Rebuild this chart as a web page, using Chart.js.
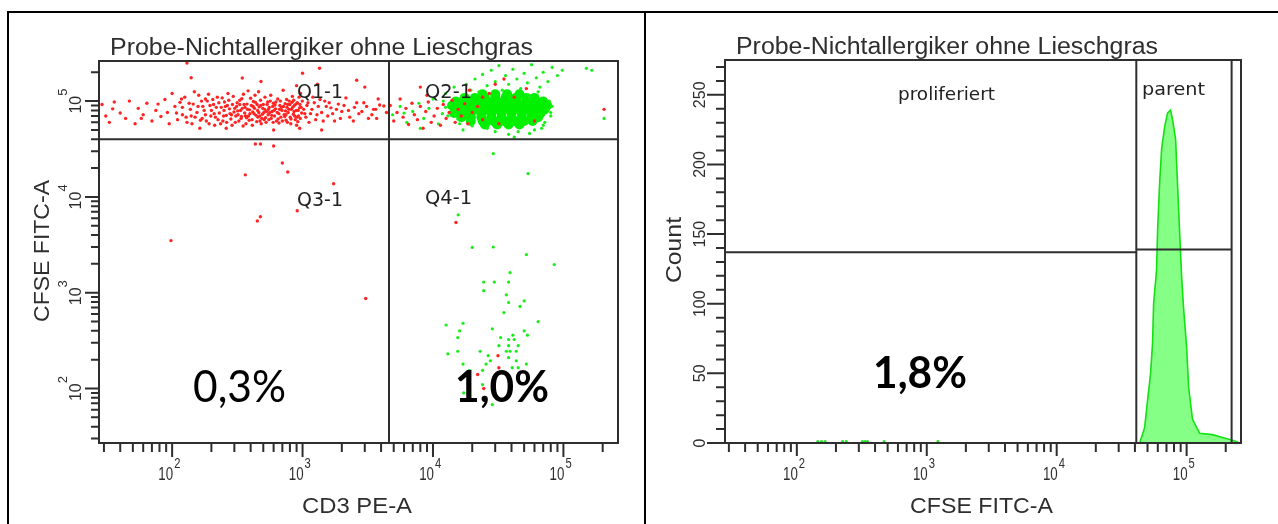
<!DOCTYPE html>
<html>
<head>
<meta charset="utf-8">
<script src="https://cdn.jsdelivr.net/npm/chart.js@4.4.1/dist/chart.umd.min.js"></script>
<style>
  html, body { margin: 0; padding: 0; background: #fff; }
  #page { position: relative; width: 1278px; height: 524px; overflow: hidden; }
  canvas { position: absolute; left: 0; top: 0; }
  .rule { position: absolute; background: #000; }
</style>
</head>
<body>
<div id="page">
  <div class="rule" style="left:7px;top:11px;width:1271px;height:2px"></div>
  <div class="rule" style="left:7px;top:11px;width:2px;height:513px"></div>
  <div class="rule" style="left:644px;top:11px;width:2px;height:513px"></div>
  <canvas id="dotplot" width="1278" height="524"></canvas>
  <canvas id="histo" width="1278" height="524"></canvas>
</div>
<script>
// ---- data ----
const title = 'Probe-Nichtallergiker ohne Lieschgras';

// CD3 PE-A vs CFSE FITC-A, [x, y]
const redCells = [
  [29,92000],[31,70000],[33,60000],[35,83000],[36,98000],[40,75000],[44,66000],[47,100000],[52,58000],[55,84000],
  [58,66000],[60,72000],[64,95000],[70,62000],[75,80000],[78,93000],[82,69000],[88,104000],[92,76000],[95,58000],
  [105,88000],[110,64000],[115,97000],[120,72000],[120,86000],[125,110000],[130,60000],[138,82000],[140,70000],[145,93000],
  [150,68000],[155,76000],[160,115000],[165,63000],[170,66000],[172,88000],[180,72000],[180,105000],[186,100000],[192,58000],
  [195,90000],[200,80000],[208,92000],[210,74000],[215,68000],[222,110000],[225,64000],[230,75000],[238,86000],[245,62000],
  [250,80000],[252,98000],[260,71000],[265,90000],[268,120000],[275,83000],[282,65000],[285,72000],[290,92000],[298,77000],
  [305,60000],[312,88000],[318,79000],[320,72000],[330,102000],[330,92000],[338,66000],[340,69000],[345,84000],[352,118000],
  [360,75000],[362,86000],[368,58000],[372,67000],[375,93000],[385,70000],[390,63000],[392,81000],[400,107000],[410,64000],
  [415,77000],[418,88000],[420,99000],[425,74000],[435,97000],[440,71000],[445,61000],[452,80000],[460,125000],[465,87000],
  [470,70000],[472,62000],[478,90000],[488,66000],[492,73000],[495,84000],[505,76000],[515,110000],[520,67000],[525,60000],
  [530,78000],[535,92000],[545,72000],[548,82000],[555,86000],[565,100000],[575,66000],[580,71000],[585,78000],[590,88000],
  [598,95000],[610,70000],[615,91000],[620,83000],[632,62000],[645,105000],[650,65000],[658,74000],[660,59000],[670,90000],
  [682,68000],[690,86000],[695,80000],[710,130000],[722,72000],[730,69000],[735,94000],[740,79000],[748,63000],[760,86000],
  [770,92000],[775,76000],[790,100000],[805,68000],[815,65000],[820,82000],[830,97000],[835,112000],[850,73000],[860,78000],
  [865,90000],[880,64000],[895,80000],[905,68000],[912,96000],[920,61000],[930,70000],[948,85000],[955,92000],[965,120000],
  [985,75000],[1020,82000],[1060,68000],[1100,96000],[1150,74000],[1200,110000],[1260,64000],[1320,88000],[1400,76000],[1480,100000],
  [1560,70000],[1650,85000],[1760,62000],[1880,93000],[2000,78000],[2150,108000],[2300,68000],[2500,86000],[2700,74000],[2950,96000],
  [3200,66000],[3500,82000],[3640,82000],[3800,105000],[3900,91000],[4200,89000],
  [100,120000],[108,75000],[118,105000],[128,68000],[135,95000],[142,58000],[148,125000],[158,88000],[163,52000],[168,100000],
  [176,80000],[183,62000],[190,118000],[198,70000],[205,104000],[212,56000],[218,86000],[228,96000],[235,58000],[242,108000],
  [248,70000],[256,88000],[262,60000],[272,102000],[278,74000],[288,56000],[294,112000],[302,84000],[308,70000],[315,96000],
  [325,62000],[335,80000],[342,106000],[350,55000],[356,92000],[365,70000],[378,82000],[382,128000],[395,74000],[405,90000],
  [412,56000],[428,84000],[432,115000],[448,92000],[455,68000],[462,76000],[476,102000],[482,58000],[500,92000],[508,64000],
  [512,82000],[540,98000],[552,64000],[560,76000],[570,115000],[595,60000],[605,80000],[625,98000],[640,76000],[665,82000],
  [675,100000],[700,62000],[715,88000],[745,72000],[755,104000],[765,60000],[785,82000],[800,92000],[812,58000],[840,86000],
  [855,102000],[870,70000],[890,93000],[900,56000],[925,80000],[940,110000],[960,66000],[975,86000],[995,100000],[1040,74000],
  [1080,90000],[1120,60000],[1180,82000],[1230,96000],[1290,72000],[1360,104000],[1440,62000],[1520,88000],[1600,96000],[1700,74000],
  [1820,82000],[1950,66000],[2080,90000],[2250,80000],[2450,62000],[2600,96000],[2850,78000],[3100,88000],[3400,72000],[3700,66000],
  [4400,76000],
  [130,250000],[345,174000],[1000,195000],[1350,220000],[140,175000],[480,160000],[900,145000],[2600,165000],[3000,140000],[1300,150000],
  [950,52000],[1400,50000],[260,52000],[600,50000],
  [435,35600],[475,35600],[600,34000],[700,22600],[770,18200],[364,17000],[910,7170],[475,6200],[450,5600],[98,3500],
  [1730,13700],[3050,870],
  [4700,90000],[5000,62000],[5300,76000],[5600,105000],[5900,68000],[6200,84000],[6500,57000],[6900,95000],[7200,72000],[7600,64000],
  [8000,88000],[8000,140000],[8400,52000],[8800,78000],[9000,115000],[9200,98000],[9700,60000],[10200,70000],[10800,84000],[11400,56000],
  [12000,92000],[12600,66000],[13300,76000],[14000,102000],[14800,60000],[15600,82000],[16500,70000],[17500,94000],[18500,58000],[19000,130000],
  [20000,76000],[22000,88000],[24000,64000],[24000,110000],[27000,120000],[30000,150000],[32000,58000],[35000,170000],[42000,110000],[52000,135000],
  [60000,62000],[205000,82000],
  [15000,5400],[31500,220],[32000,165],[22000,140],[24500,100]
];

const greenCore = [
  [24000,118000],[30000,118000],[37000,118000],[46000,118000],
  [17500,108000],[21000,108000],[25000,108000],[30000,108000],[36000,108000],[43000,108000],[52000,108000],[60000,108000],
  [15000,99000],[18000,99000],[21500,99000],[26000,99000],[31000,99000],[37000,99000],[44000,99000],[52000,99000],[62000,99000],[70000,99000],
  [14000,90000],[16500,90000],[19500,90000],[23500,90000],[28000,90000],[33500,90000],[40000,90000],[48000,90000],[57000,90000],[67000,90000],[75000,90000],
  [15000,82000],[18000,82000],[21500,82000],[26000,82000],[31000,82000],[37000,82000],[44000,82000],[52000,82000],[62000,82000],[72000,82000],
  [14500,75000],[16500,75000],[19500,75000],[23500,75000],[28000,75000],[33500,75000],[40000,75000],[48000,75000],[57000,75000],[67000,75000],
  [16500,68000],[19500,68000],[23500,68000],[28000,68000],[33500,68000],[40000,68000],[48000,68000],[57000,68000],[64000,68000],
  [19500,62000],[24000,62000],[29000,62000],[35000,62000],[42000,62000],[50000,62000],[58000,62000],
  [25000,57000],[31000,57000],[38000,57000],[46000,57000]
];

const greenCells = [
  [4900,72000],[5600,88000],[6000,75000],[6300,60000],[7000,78000],[7800,95000],[8000,52000],[8500,66000],[9300,84000],[10000,105000],
  [11000,58000],[11800,74000],[12500,120000],[13500,92000],[14500,140000],[15500,65000],[16500,110000],[17000,50000],[18000,150000],[19500,130000],
  [20000,55000],[21000,170000],[22500,125000],[24000,190000],[26000,145000],[26000,52000],[28000,210000],[30000,160000],[30000,48000],[32000,235000],
  [34000,130000],[36000,185000],[38000,150000],[38000,45000],[41000,215000],[42000,42000],[44000,170000],[45000,48000],[47000,135000],[50000,195000],
  [53000,155000],[55000,46000],[55000,110000],[57000,240000],[60000,50000],[62000,175000],[64000,125000],[66000,140000],[68000,52000],[70000,200000],
  [72000,60000],[75000,82000],[76000,160000],[80000,70000],[82000,225000],[90000,185000],[98000,210000],[150000,220000],[165000,210000],[205000,66000],
  [12500,86000],[13000,70000],[78000,100000],[82000,88000],[80000,76000],[70000,56000],[16000,58000],[12000,100000],
  [29000,28300],[53600,17500],[15600,6500],[20000,2970],[29000,3000],[52000,2500],[85000,1970],[39000,1620],[24500,1290],[29500,1290],
  [38000,1290],[24500,1050],[36500,950],[38000,790],[50000,820],[46500,720],[35000,620],[64000,500],[12600,460],[17000,480],
  [16000,400],[28500,420],[50000,400],[15500,340],[41000,360],[53000,360],[33000,340],[38000,325],[42000,325],[32000,280],
  [38000,280],[45000,280],[13000,230],[15500,245],[23000,245],[26500,220],[36500,245],[39000,245],[43500,245],[38000,210],
  [27500,195],[43500,195],[25500,180],[17000,180],[52000,180],[40500,165],[45000,165],[24000,155],[19000,155],[24000,110],
  [28500,68],[17200,90]
];

// quadrant gate (CD3, CFSE)
const quadGate = [4600, 40000];
const quadNames = ['Q1-1', 'Q2-1', 'Q3-1', 'Q4-1'];

// CFSE FITC-A histogram
const histX     = [43500,47500,50100,52800,54700,55700,58700,59800,62000,64200,67700,71400,75300,78000,82300,85300,88400,91600,94900,100000,103600,111000,126000,158000,189000,226000,256000];
const histCount = [0,11,31,50,72,100,124,153,187,211,227,237,239,232,218,184,151,119,96,69,40,17,7,6,4,2,0];
const lowX      = [145,155,165,225,240,320,335,350,470,1220];
const lowCount  = [1,1,1,1,1,1,1,1,1,1];

// histogram gates
const gateX = [41000, 222000];
const gateY = [137, 139];

const decades = [100, 1000, 10000, 100000];
const decadeExp = ['2', '3', '4', '5'];
const countTicks = [0, 50, 100, 150, 200, 250];
const percents = ['0,3%', '1,0%', '1,8%'];

// ---- drawing helpers ----
const INK = '#2e2e2e';
const SANS = '"Liberation Sans", Arial, sans-serif';

function label(ctx, s, x, y, o) {
  ctx.save();
  ctx.translate(x, y);
  if (o.rot) ctx.rotate(o.rot);
  ctx.font = o.font;
  ctx.fillStyle = o.color || INK;
  ctx.textBaseline = 'alphabetic';
  ctx.textAlign = o.align || 'center';
  let sx = o.sx || 1;
  if (o.width) sx = o.width / ctx.measureText(s).width;
  ctx.scale(sx, 1);
  ctx.fillText(s, 0, 0);
  ctx.restore();
}

function logTicks(min, max) {
  const out = [];
  for (let e = 1; e <= 5; e++) {
    for (let k = 1; k <= 9; k++) {
      const v = k * Math.pow(10, e);
      if (v >= min && v <= max) out.push({ v, major: k === 1 });
    }
  }
  return out;
}

function seg(ctx, x1, y1, x2, y2) {
  ctx.beginPath();
  ctx.moveTo(x1, y1);
  ctx.lineTo(x2, y2);
  ctx.stroke();
}

function xAxisLog(ctx, scale, y0, minor, major) {
  ctx.beginPath();
  logTicks(scale.min, scale.max).forEach(t => {
    const p = scale.getPixelForValue(t.v);
    ctx.moveTo(p, y0);
    ctx.lineTo(p, y0 + (t.major ? major : minor));
  });
  ctx.stroke();
  decades.forEach((v, i) => {
    const p = scale.getPixelForValue(v);
    label(ctx, '10', p + 1, y0 + 37, { font: '19px ' + SANS, align: 'right', sx: 0.7 });
    label(ctx, decadeExp[i], p + 2, y0 + 25, { font: '14px ' + SANS, align: 'left', sx: 0.8 });
  });
}

function yPow(ctx, p, e, baseX) {
  ctx.save();
  ctx.translate(baseX, p);
  ctx.rotate(-Math.PI / 2);
  ctx.fillStyle = INK;
  ctx.textAlign = 'left';
  ctx.textBaseline = 'alphabetic';
  ctx.font = '16px ' + SANS;
  const w1 = ctx.measureText('10').width;
  ctx.font = '13px ' + SANS;
  const w2 = ctx.measureText(e).width;
  const x0 = -(w1 + w2) / 2;
  ctx.font = '16px ' + SANS;
  ctx.fillText('10', x0, 0);
  ctx.font = '13px ' + SANS;
  ctx.fillText(e, x0 + w1, -14);
  ctx.restore();
}

function drawDotplot(chart) {
  const ctx = chart.ctx, a = chart.chartArea;
  const xs = chart.scales.x, ys = chart.scales.y;
  ctx.save();
  ctx.strokeStyle = INK;
  ctx.lineWidth = 2;
  ctx.strokeRect(a.left, a.top, a.right - a.left, a.bottom - a.top);
  const qx = xs.getPixelForValue(quadGate[0]);
  const qy = ys.getPixelForValue(quadGate[1]);
  seg(ctx, qx, a.top, qx, a.bottom);
  seg(ctx, a.left, qy, a.right, qy);

  xAxisLog(ctx, xs, a.bottom, 9, 14);
  ctx.beginPath();
  logTicks(ys.min, ys.max).forEach(t => {
    const p = ys.getPixelForValue(t.v);
    ctx.moveTo(a.left, p);
    ctx.lineTo(a.left - (t.major ? 14 : 8), p);
  });
  ctx.stroke();
  decades.forEach((v, i) => yPow(ctx, ys.getPixelForValue(v), decadeExp[i], 81));

  label(ctx, title, 110, 55, { font: '23px ' + SANS, align: 'left', width: 423 });
  label(ctx, 'CD3 PE-A', 357, 513, { font: '22px ' + SANS, width: 110 });
  label(ctx, 'CFSE FITC-A', 49, 251, { font: '22px ' + SANS, width: 142, rot: -Math.PI / 2 });

  const qf = '19px "DejaVu Sans", sans-serif';
  label(ctx, quadNames[0], 297, 98, { font: qf, align: 'left', width: 46, color: '#222' });
  label(ctx, quadNames[1], 425, 98, { font: qf, align: 'left', width: 47, color: '#222' });
  label(ctx, quadNames[2], 297, 206, { font: qf, align: 'left', width: 46, color: '#222' });
  label(ctx, quadNames[3], 425, 204, { font: qf, align: 'left', width: 47, color: '#222' });

  label(ctx, percents[0], 239.5, 402, { font: '44px Lato, "Open Sans", sans-serif', width: 93, color: '#000' });
  label(ctx, percents[1], 502, 402, { font: 'bold 44px Lato, "Open Sans", sans-serif', width: 94, color: '#000' });
  ctx.restore();
}

function drawHisto(chart) {
  const ctx = chart.ctx, a = chart.chartArea;
  const xs = chart.scales.x, ys = chart.scales.y;
  ctx.save();
  ctx.strokeStyle = INK;
  ctx.lineWidth = 2;
  ctx.strokeRect(a.left, a.top, a.right - a.left, a.bottom - a.top);
  const g0 = xs.getPixelForValue(gateX[0]);
  const g1 = xs.getPixelForValue(gateX[1]);
  seg(ctx, g0, a.top, g0, a.bottom);
  seg(ctx, g1, a.top, g1, a.bottom);
  seg(ctx, a.left, ys.getPixelForValue(gateY[0]), g0, ys.getPixelForValue(gateY[0]));
  seg(ctx, g0, ys.getPixelForValue(gateY[1]), g1, ys.getPixelForValue(gateY[1]));

  xAxisLog(ctx, xs, a.bottom, 9, 13);
  ctx.beginPath();
  for (let v = 0; v <= ys.max; v += 10) {
    const p = ys.getPixelForValue(v);
    ctx.moveTo(a.left, p);
    ctx.lineTo(a.left - (v % 50 === 0 ? 18 : 9), p);
  }
  ctx.stroke();
  countTicks.forEach(v => {
    label(ctx, String(v), 705, ys.getPixelForValue(v), { font: '16px ' + SANS, rot: -Math.PI / 2 });
  });

  label(ctx, title, 736, 54, { font: '23px ' + SANS, align: 'left', width: 422 });
  label(ctx, 'CFSE FITC-A', 981.5, 513, { font: '22px ' + SANS, width: 143 });
  label(ctx, 'Count', 681, 250, { font: '22px ' + SANS, width: 66, rot: -Math.PI / 2 });

  const gf = '18px "DejaVu Sans", sans-serif';
  label(ctx, 'proliferiert', 898, 100, { font: gf, align: 'left', width: 97, color: '#222' });
  label(ctx, 'parent', 1142, 95, { font: gf, align: 'left', width: 63, color: '#222' });

  label(ctx, percents[2], 920, 388, { font: 'bold 44px Lato, "Open Sans", sans-serif', width: 94, color: '#000' });
  ctx.restore();
}

const toXY = arr => arr.map(p => ({ x: p[0], y: p[1] }));
const dot = (data, color, r) => ({
  data: toXY(data),
  backgroundColor: color,
  borderWidth: 0,
  pointRadius: r,
  pointHoverRadius: r
});

const baseOptions = {
  responsive: false,
  animation: false,
  events: [],
  plugins: { legend: { display: false }, tooltip: { enabled: false } }
};

new Chart(document.getElementById('dotplot'), {
  type: 'scatter',
  data: {
    datasets: [
      dot(redCells, '#ff2424', 1.7),
      dot(greenCells, '#16ee16', 1.6),
      dot(greenCore, '#00f000', 5)
    ]
  },
  options: {
    ...baseOptions,
    layout: { padding: { left: 99, top: 61, right: 660, bottom: 81 } },
    scales: {
      x: { type: 'logarithmic', min: 27.5, max: 262144, display: false },
      y: { type: 'logarithmic', min: 27, max: 262144, display: false }
    }
  },
  plugins: [{ id: 'dotplotDecor', afterDraw: drawDotplot }]
});

new Chart(document.getElementById('histo'), {
  type: 'scatter',
  data: {
    datasets: [
      {
        type: 'line',
        data: histX.map((x, i) => ({ x, y: histCount[i] })),
        borderColor: '#14e014',
        backgroundColor: '#86ff86',
        borderWidth: 1.6,
        fill: 'origin',
        pointRadius: 0,
        tension: 0
      },
      dot(lowX.map((x, i) => [x, lowCount[i]]), '#22e022', 1.6)
    ]
  },
  options: {
    ...baseOptions,
    layout: { padding: { left: 725, top: 60, right: 37, bottom: 81 } },
    scales: {
      x: { type: 'logarithmic', min: 28, max: 262144, display: false },
      y: { type: 'linear', min: 0, max: 275, display: false }
    }
  },
  plugins: [{ id: 'histoDecor', afterDraw: drawHisto }]
});
</script>
</body>
</html>
